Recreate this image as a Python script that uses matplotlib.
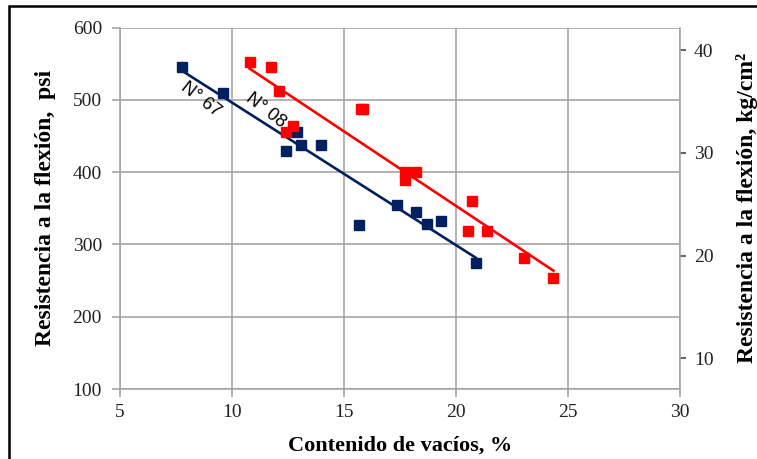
import numpy as np
import matplotlib
matplotlib.use("Agg")
import matplotlib.pyplot as plt
from matplotlib.patches import Rectangle

# datos (contenido de vacios %, resistencia psi)
x_67 = [7.79, 9.58, 12.41, 12.89, 13.07, 13.96, 15.67, 17.37, 18.23, 18.69, 19.34, 20.88]
y_67 = [545, 509, 430, 455, 437, 437, 327, 354, 345, 329, 332, 275]

x_08 = [10.79, 11.73, 12.08, 12.40, 12.71, 15.77, 15.87, 17.74, 17.74, 18.23, 20.70, 20.55, 21.37, 23.04, 24.35]
y_08 = [553, 545, 513, 455, 464, 487, 488, 400, 389, 400, 360, 319, 319, 281, 254]

labels = ["N° 67", "N° 08"]
PSI_PER_KGCM2 = 14.223

BLUE = "#002060"
RED = "#ff0000"
GRID = "#a6a6a6"

plt.rcParams['font.family'] = ['Liberation Serif', 'DejaVu Serif']

fig = plt.figure(figsize=(7.57, 4.59), dpi=100)
ax = fig.add_axes([0.1585, 0.1525, 0.8983 - 0.1585, 0.9397 - 0.1525])

# lineas de tendencia (ajuste lineal)
for xs, ys, c in [(x_67, y_67, BLUE), (x_08, y_08, RED)]:
    xs = np.array(xs)
    ys = np.array(ys)
    m, b = np.polyfit(xs, ys, 1)
    xl = np.array([xs.min(), xs.max()])
    ax.plot(xl, m * xl + b, color=c, linewidth=1.9, zorder=3)

ax.plot(x_67, y_67, 's', color=BLUE, markersize=7, zorder=4)
ax.plot(x_08, y_08, 's', color=RED, markersize=7, zorder=4)

ax.set_xlim(5, 30)
ax.set_ylim(100, 600)
ax.set_xticks([5, 10, 15, 20, 25, 30])
ax.set_yticks([100, 200, 300, 400, 500, 600])
ax.grid(True, color=GRID, linewidth=1.2)
ax.set_axisbelow(True)
for s in ['top', 'right']:
    ax.spines[s].set_visible(False)
for s in ['left', 'bottom']:
    ax.spines[s].set_color(GRID)
    ax.spines[s].set_linewidth(1.2)
ax.tick_params(axis='both', colors=GRID, labelcolor='#222222', labelsize=14, length=6, width=1.2)
ax.tick_params(axis='x', pad=5)
ax.tick_params(axis='y', pad=7)

ax.set_xlabel("Contenido de vacíos, %", fontsize=16, fontweight='bold', labelpad=10)
ax.set_ylabel("Resistencia a la flexión,  psi", fontsize=17, fontweight='bold', labelpad=12)

ax.text(8.6, 500, labels[0], family='Liberation Sans', fontsize=13, rotation=-38,
        ha='center', va='center')
ax.text(11.5, 485, labels[1], family='Liberation Sans', fontsize=13, rotation=-38,
        ha='center', va='center')

# eje derecho en kg/cm2
ax2 = ax.twinx()
ax2.set_ylim(100 / PSI_PER_KGCM2, 600 / PSI_PER_KGCM2)
ax2.set_yticks([10, 20, 30, 40])
for s in ['top', 'left', 'bottom']:
    ax2.spines[s].set_visible(False)
ax2.spines['right'].set_color(GRID)
ax2.spines['right'].set_linewidth(1.2)
ax2.tick_params(axis='y', colors='#666666', labelcolor='#222222', labelsize=14, length=4, width=1.5, pad=6)
ax2.set_ylabel("Resistencia a la flexión, kg/cm²", fontsize=17, fontweight='bold', labelpad=16)

# marco de la figura
fig.patches.append(Rectangle((8.5 / 757, -0.1), 1.2, 1.1 - 6.5 / 459,
                             transform=fig.transFigure, fill=False,
                             edgecolor='black', linewidth=1.8))

fig.savefig("out.png", dpi=100)
